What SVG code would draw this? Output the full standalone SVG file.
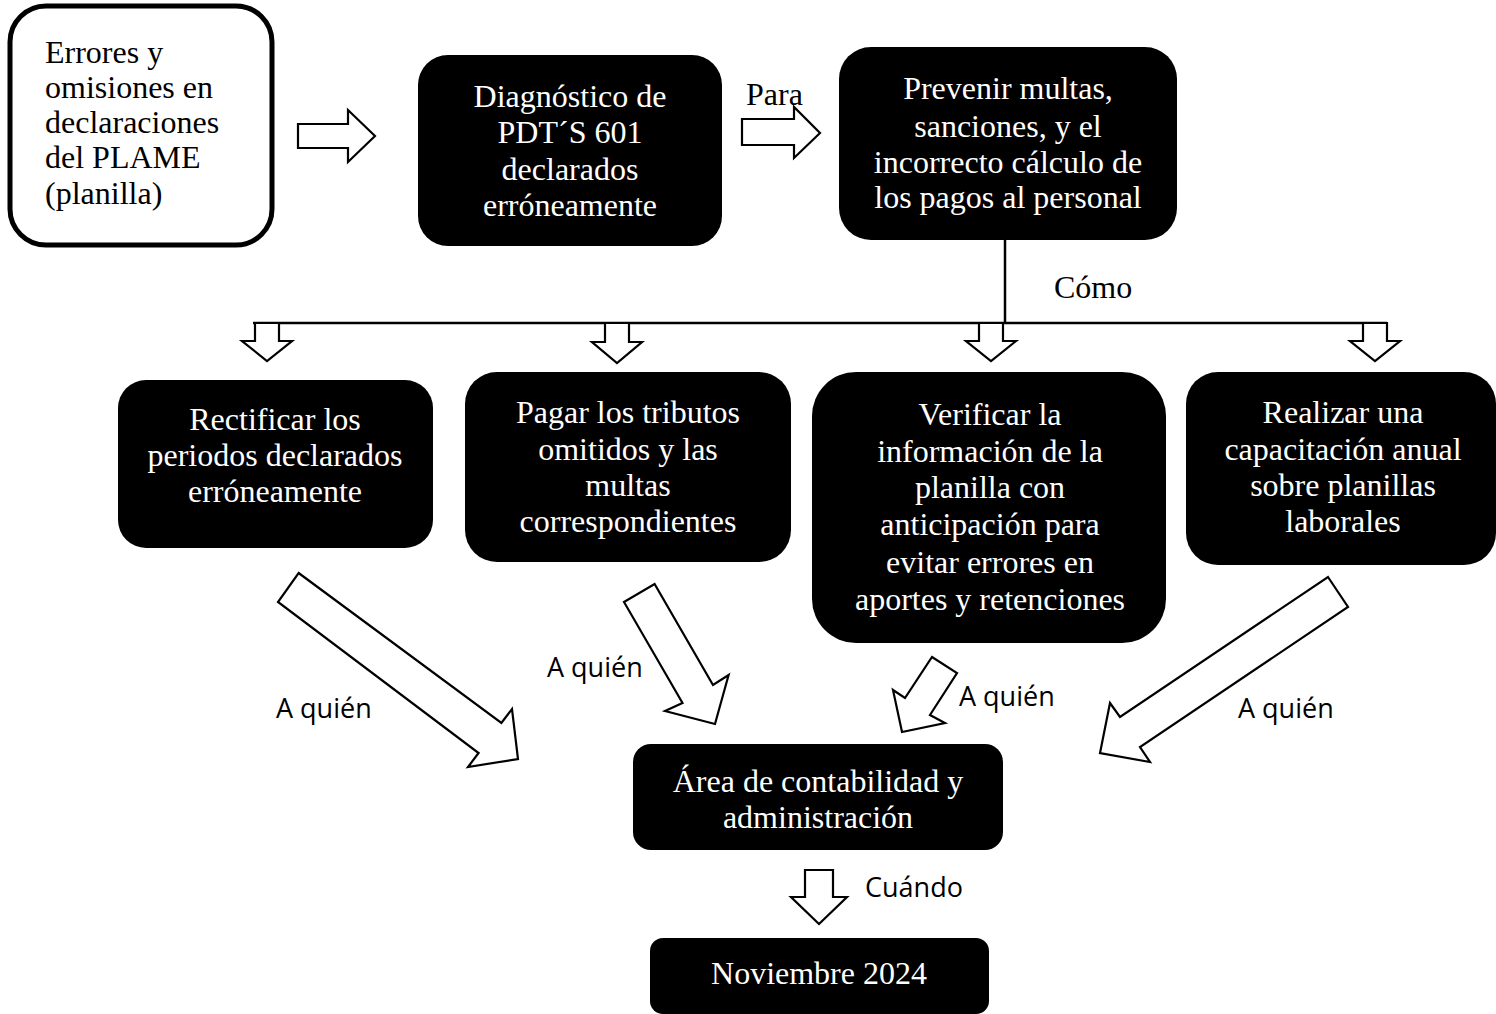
<svg xmlns="http://www.w3.org/2000/svg" width="1496" height="1014" viewBox="0 0 1496 1014">
<style>
.box{fill:#000}
.wbox{fill:#fff;stroke:#000;stroke-width:5}
.t{font-family:"Liberation Serif","Times New Roman",serif;font-size:32px;fill:#fff;text-anchor:middle}
.tb{font-family:"Liberation Serif","Times New Roman",serif;font-size:32px;fill:#000}
.s{font-family:"Open Sans","Noto Sans",sans-serif;font-size:27px;fill:#000}
.arr{fill:#fff;stroke:#000;stroke-width:2.2;stroke-linejoin:miter}
.ln{stroke:#000;stroke-width:2.5;fill:none}
</style>
<rect width="1496" height="1014" fill="#fff"/>
<g id="connectors">
<polygon class="arr" points="298,124 348,124 348,110 375,136 348,162 348,148 298,148"/>
<polygon class="arr" points="742,119 794,119 794,107 820,133 794,158 794,145 742,145"/>
<line class="ln" x1="1005" y1="240" x2="1005" y2="323"/>
<line class="ln" x1="253" y1="323" x2="1387" y2="323"/>
<polygon class="arr" points="255,323 279,323 279,341 292,341 267,361 242,341 255,341"/>
<polygon class="arr" points="605,323 629,323 629,342 642,342 617,363 592,342 605,342"/>
<polygon class="arr" points="979,323 1003,323 1003,341 1016,341 991,361 966,341 979,341"/>
<polygon class="arr" points="1363,323 1387,323 1387,341 1400,341 1375,361 1350,341 1363,341"/>
<polygon class="arr" points="298.6,573 501.4,723 512,709 518,759 468,767 478.6,753 278,602"/>
<polygon class="arr" points="624,602 654.6,584 713,685 728.6,675 715,724 665,711 682.5,703"/>
<polygon class="arr" points="932,657 957,673 930,715 945,723 902,732 893,690 905,698"/>
<polygon class="arr" points="1328,577 1348,607 1140,747 1150,762 1100,753 1110,703 1120,717"/>
<polygon class="arr" points="805,870 833,870 833,897 847,897 819,924 791,897 805,897"/>
<text class="tb" x="746" y="105">Para</text>
<text class="tb" x="1054" y="298">Cómo</text>
<text class="s" x="276" y="718">A quién</text>
<text class="s" x="547" y="677">A quién</text>
<text class="s" x="959" y="706">A quién</text>
<text class="s" x="1238" y="718">A quién</text>
<text class="s" x="865" y="897">Cuándo</text>
</g>
<g id="n1">
<rect class="wbox" x="10" y="6" width="262" height="239" rx="36"/>
<text class="tb" x="45"><tspan x="45" y="63">Errores y</tspan><tspan x="45" y="98">omisiones en</tspan><tspan x="45" y="133">declaraciones</tspan><tspan x="45" y="168">del PLAME</tspan><tspan x="45" y="204">(planilla)</tspan></text>
</g>
<g id="n2">
<rect class="box" x="418" y="55" width="304" height="191" rx="30"/>
<text class="t"><tspan x="570" y="107">Diagnóstico de</tspan><tspan x="570" y="143">PDT´S 601</tspan><tspan x="570" y="180">declarados</tspan><tspan x="570" y="216">erróneamente</tspan></text>
</g>
<g id="n3">
<rect class="box" x="839" y="47" width="338" height="193" rx="32"/>
<text class="t"><tspan x="1008" y="99">Prevenir multas,</tspan><tspan x="1008" y="137">sanciones, y el</tspan><tspan x="1008" y="173">incorrecto cálculo de</tspan><tspan x="1008" y="208">los pagos al personal</tspan></text>
</g>
<g id="n4">
<rect class="box" x="118" y="380" width="315" height="168" rx="28"/>
<text class="t"><tspan x="275" y="430">Rectificar los</tspan><tspan x="275" y="466">periodos declarados</tspan><tspan x="275" y="502">erróneamente</tspan></text>
</g>
<g id="n5">
<rect class="box" x="465" y="372" width="326" height="190" rx="32"/>
<text class="t"><tspan x="628" y="423">Pagar los tributos</tspan><tspan x="628" y="460">omitidos y las</tspan><tspan x="628" y="496">multas</tspan><tspan x="628" y="532">correspondientes</tspan></text>
</g>
<g id="n6">
<rect class="box" x="812" y="372" width="354" height="271" rx="44"/>
<text class="t"><tspan x="990" y="425">Verificar la</tspan><tspan x="990" y="462">información de la</tspan><tspan x="990" y="498">planilla con</tspan><tspan x="990" y="535">anticipación para</tspan><tspan x="990" y="573">evitar errores en</tspan><tspan x="990" y="610">aportes y retenciones</tspan></text>
</g>
<g id="n7">
<rect class="box" x="1186" y="372" width="310" height="193" rx="32"/>
<text class="t"><tspan x="1343" y="423">Realizar una</tspan><tspan x="1343" y="460">capacitación anual</tspan><tspan x="1343" y="496">sobre planillas</tspan><tspan x="1343" y="532">laborales</tspan></text>
</g>
<g id="n8">
<rect class="box" x="633" y="744" width="370" height="106" rx="18"/>
<text class="t"><tspan x="818" y="792">Área de contabilidad y</tspan><tspan x="818" y="828">administración</tspan></text>
</g>
<g id="n9">
<rect class="box" x="650" y="938" width="339" height="76" rx="13"/>
<text class="t" x="819" y="984">Noviembre 2024</text>
</g>
</svg>
